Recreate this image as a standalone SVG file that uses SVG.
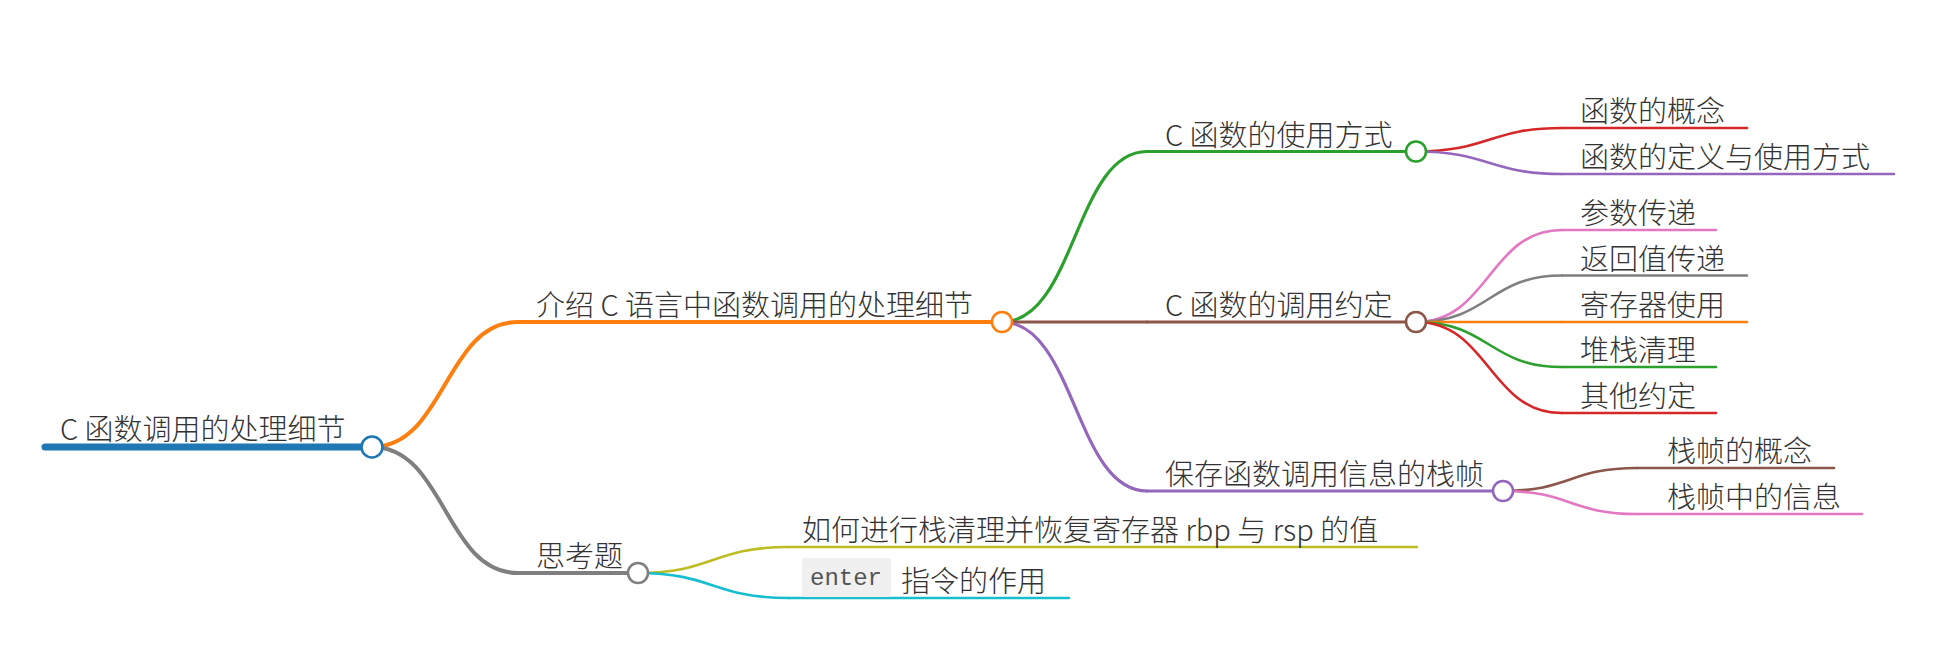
<svg xmlns="http://www.w3.org/2000/svg" width="1959" height="658" viewBox="0 0 1959 658">
<style>
text{font-family:"Noto Sans CJK SC","Noto Sans",sans-serif;font-size:29px;fill:#333;font-weight:300}
.mono{font-family:"Liberation Mono","DejaVu Sans Mono",monospace;font-size:24px;fill:#555}
.c{fill:none;stroke-linecap:round}
.d1{stroke-width:4}
.d2{stroke-width:3.2}
.d3{stroke-width:2.6}
circle{fill:#fff;stroke-width:2.6}
</style>
<rect width="1959" height="658" fill="#fff"/>
<g id="connectors" class="c">
<path class="d1" stroke="#ff7f0e" d="M372,447 C445,447 445,322 518,322"/>
<path class="d1" stroke="#7f7f7f" d="M372,447 C445,447 445,573 518,573"/>
<path class="d2" stroke="#2ca02c" d="M1002,322 C1075,322 1075,151.5 1147,151.5"/>
<path class="d2" stroke="#8c564b" d="M1002,322 L1147,322"/>
<path class="d2" stroke="#9467bd" d="M1002,322 C1075,322 1075,491 1147,491"/>
<path class="d3" stroke="#d62728" d="M1416,151.5 C1489,151.5 1489,128 1562,128"/>
<path class="d3" stroke="#9467bd" d="M1416,151.5 C1489,151.5 1489,174 1562,174"/>
<path class="d3" stroke="#e377c2" d="M1416,322 C1489,322 1489,230 1562,230"/>
<path class="d3" stroke="#7f7f7f" d="M1416,322 C1489,322 1489,275.5 1562,275.5"/>
<path class="d3" stroke="#ff7f0e" d="M1416,322 L1562,322"/>
<path class="d3" stroke="#2ca02c" d="M1416,322 C1489,322 1489,367 1562,367"/>
<path class="d3" stroke="#d62728" d="M1416,322 C1489,322 1489,413 1562,413"/>
<path class="d3" stroke="#8c564b" d="M1503,491 C1570,491 1570,468 1637,468"/>
<path class="d3" stroke="#e377c2" d="M1503,491 C1570,491 1570,514 1637,514"/>
<path class="d3" stroke="#bcbd22" d="M638,573 C713,573 713,547 789,547"/>
<path class="d3" stroke="#17becf" d="M638,573 C713,573 713,598 789,598"/>
</g>
<g id="root">
<path class="c" stroke="#1f77b4" stroke-width="7" stroke-linecap="butt" d="M45,447 H362"/>
<text x="60" y="440">C 函数调用的处理细节</text>
<circle cx="372" cy="447" r="10.5" stroke="#1f77b4"/>
</g>
<g id="n-intro">
<path class="c d1" stroke="#ff7f0e" d="M518,322 H992"/>
<text x="536" y="316">介绍 C 语言中函数调用的处理细节</text>
<circle cx="1002" cy="322" r="10" stroke="#ff7f0e"/>
</g>
<g id="n-think">
<path class="c d1" stroke="#7f7f7f" d="M518,573 H628"/>
<text x="536" y="567">思考题</text>
<circle cx="638" cy="573" r="10" stroke="#7f7f7f"/>
</g>
<g id="n-usage">
<path class="c d2" stroke="#2ca02c" d="M1147,151.5 H1406"/>
<text x="1165" y="145.5">C 函数的使用方式</text>
<circle cx="1416" cy="151.5" r="10" stroke="#2ca02c"/>
</g>
<g id="n-conv">
<path class="c d2" stroke="#8c564b" d="M1147,322 H1406"/>
<text x="1165" y="316">C 函数的调用约定</text>
<circle cx="1416" cy="322" r="10" stroke="#8c564b"/>
</g>
<g id="n-frame">
<path class="c d2" stroke="#9467bd" d="M1147,491 H1493"/>
<text x="1165" y="485">保存函数调用信息的栈帧</text>
<circle cx="1503" cy="491" r="10" stroke="#9467bd"/>
</g>
<g id="l-concept">
<path class="c d3" stroke="#d62728" d="M1562,128 H1747"/>
<text x="1580" y="122">函数的概念</text>
</g>
<g id="l-define">
<path class="c d3" stroke="#9467bd" d="M1562,174 H1894"/>
<text x="1580" y="168">函数的定义与使用方式</text>
</g>
<g id="l-param">
<path class="c d3" stroke="#e377c2" d="M1562,230 H1716"/>
<text x="1580" y="224">参数传递</text>
</g>
<g id="l-return">
<path class="c d3" stroke="#7f7f7f" d="M1562,275.5 H1747"/>
<text x="1580" y="269.5">返回值传递</text>
</g>
<g id="l-reg">
<path class="c d3" stroke="#ff7f0e" d="M1562,322 H1747"/>
<text x="1580" y="316">寄存器使用</text>
</g>
<g id="l-stack">
<path class="c d3" stroke="#2ca02c" d="M1562,367 H1716"/>
<text x="1580" y="361">堆栈清理</text>
</g>
<g id="l-other">
<path class="c d3" stroke="#d62728" d="M1562,413 H1716"/>
<text x="1580" y="407">其他约定</text>
</g>
<g id="l-frame-concept">
<path class="c d3" stroke="#8c564b" d="M1637,468 H1834"/>
<text x="1667" y="462">栈帧的概念</text>
</g>
<g id="l-frame-info">
<path class="c d3" stroke="#e377c2" d="M1637,514 H1862"/>
<text x="1667" y="508">栈帧中的信息</text>
</g>
<g id="l-restore">
<path class="c d3" stroke="#bcbd22" d="M789,547 H1417"/>
<text x="802" y="541">如何进行栈清理并恢复寄存器 rbp 与 rsp 的值</text>
</g>
<g id="l-enter">
<path class="c d3" stroke="#17becf" d="M789,598 H1069"/>
<rect x="802" y="558" width="89" height="39" rx="3" fill="#f0f0f0"/>
<text class="mono" x="810" y="585">enter</text>
<text x="901" y="592">指令的作用</text>
</g>
</svg>
